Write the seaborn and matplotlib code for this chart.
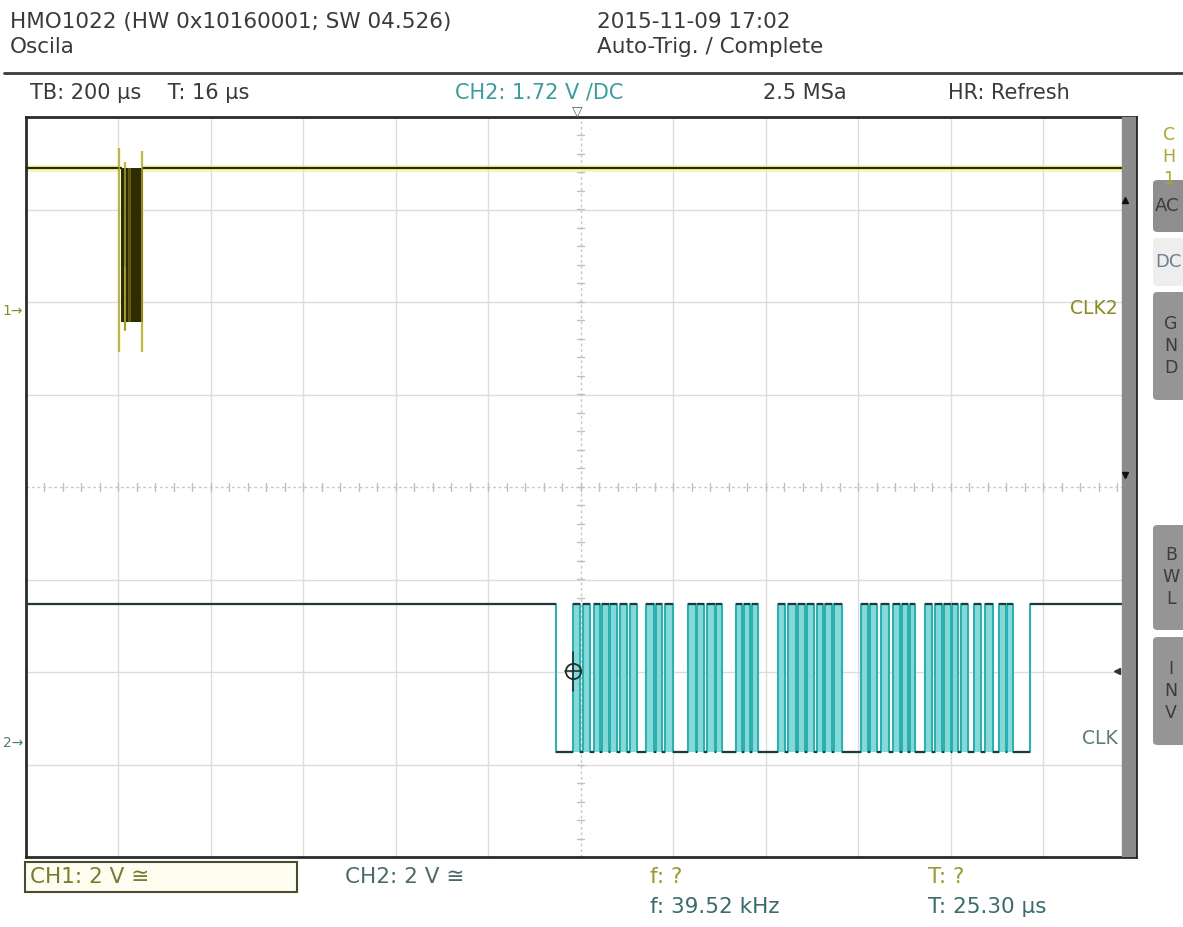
import numpy as np
import pandas as pd
import matplotlib
matplotlib.use("Agg")
import matplotlib.pyplot as plt
from matplotlib.patches import Rectangle, FancyBboxPatch
import seaborn as sns

# ---------------- data ----------------
time_range_us = [-1200, 1200]          # 12 div x 200 us
volts_per_div = 2.0
ch1_offset_div = 1.91
ch2_offset_div = -2.76

ch1_levels_v = [3.07, -0.26]           # high, low
ch1_burst_us = [-994, -946]            # dense burst region
ch1_burst_light_us = [-978, -972]
ch1_spikes_us = [-997, -985, -948]
ch1_spike_top_v = [3.50, 3.20, 3.45]
ch1_spike_bot_v = [-0.90, -0.45, -0.90]

ch2_levels_v = [3.00, -0.22]           # high, low
ch2_edges_us = [-53, -17, -2, 6, 21, 29, 43, 47, 61, 64, 78, 86, 101, 107, 123,
                142, 158, 163, 177, 183, 199, 233, 249, 252, 266, 274, 290, 293,
                307, 336, 350, 354, 367, 370, 383, 427, 443, 449, 465, 470, 486,
                490, 504, 512, 525, 529, 543, 548, 566, 607, 621, 626, 640, 650,
                668, 676, 690, 695, 709, 713, 724, 745, 761, 767, 781, 786, 800,
                803, 817, 823, 837, 851, 867, 875, 891, 905, 921, 923, 936, 972]
trigger_level_v = 1.72
trigger_time_us = -16

header_left = ["HMO1022 (HW 0x10160001; SW 04.526)", "Oscila"]
header_right = ["2015-11-09 17:02", "Auto-Trig. / Complete"]
status_items = ["TB: 200 µs    T: 16 µs", "CH2: 1.72 V /DC", "2.5 MSa", "HR: Refresh"]
bottom_ch = ["CH1: 2 V ≅", "CH2: 2 V ≅"]
meas_f = ["f: ?", "f: 39.52 kHz"]
meas_T = ["T: ?", "T: 25.30 µs"]
trace_labels = ["CLK2", "CLK"]

# ---------------- styles ----------------
sns.set_theme(style="white")
plt.rcParams['font.family'] = ['DejaVu Sans']

W, H = 1183, 927
fig = plt.figure(figsize=(W / 100, H / 100), dpi=100)
fig.patch.set_facecolor("white")

def fx(px):
    return px / W

def fy(py):
    return 1 - py / H

ax = fig.add_axes([fx(25.5), fy(857), fx(1135.5) - fx(25.5), fy(117) - fy(857)])
ax.set_facecolor("white")
ax.set_xlim(*time_range_us)
ax.set_ylim(-4, 4)
ax.set_xticks([])
ax.set_yticks([])
for s in ax.spines.values():
    s.set_color("#2a2a2a")
    s.set_linewidth(2)

# grid
grid_c = "#dcdcdc"
for xv in np.arange(-1000, 1200, 200):
    if xv != 0:
        ax.axvline(xv, color=grid_c, lw=1, zorder=0)
for yv in range(-3, 4):
    if yv != 0:
        ax.axhline(yv, color=grid_c, lw=1, zorder=0)
ax.axhline(0, color="#c8c8c8", lw=1, ls=(0, (2, 2)), zorder=0)
ax.axvline(0, color="#c8c8c8", lw=1, ls=(0, (2, 2)), zorder=0)
for xv in np.arange(-1200, 1201, 40):
    ax.plot([xv, xv], [-0.04, 0.04], color="#c0c0c0", lw=1, zorder=0)
for yv in np.arange(-4, 4.01, 0.2):
    ax.plot([-8.6, 8.6], [yv, yv], color="#c0c0c0", lw=1, zorder=0)

def ch1_div(v):
    return ch1_offset_div + np.asarray(v) / volts_per_div

def ch2_div(v):
    return ch2_offset_div + np.asarray(v) / volts_per_div

# ---------------- CH1 ----------------
c1_hi, c1_lo = ch1_div(ch1_levels_v[0]), ch1_div(ch1_levels_v[1])
ch1_df = pd.DataFrame({"t": [time_range_us[0], ch1_burst_us[0], ch1_burst_us[1], time_range_us[1]],
                       "y": [c1_hi] * 4, "seg": [0, 0, 1, 1]})
for seg, g in ch1_df.groupby("seg"):
    ax.plot(g["t"], g["y"], color="#f2f07a", lw=5, alpha=0.55, zorder=2, solid_capstyle="butt")
    sns.lineplot(data=g, x="t", y="y", color="#2b2a05", lw=1.6, ax=ax,
                 estimator=None, sort=False, zorder=3)
ax.fill_between(ch1_burst_us, c1_lo, c1_hi, color="#302c02", zorder=3, lw=0)
ax.fill_between(ch1_burst_light_us, c1_lo, c1_hi, color="#5e5810", zorder=3, lw=0)
ax.fill_between([ch1_burst_us[0] + 8, ch1_burst_us[0] + 12], c1_lo - 0.08, c1_lo + 0.6,
                color="#8c8420", zorder=3, lw=0)
ax.vlines(ch1_spikes_us, ch1_div(ch1_spike_bot_v), ch1_div(ch1_spike_top_v),
          color="#a8a440", lw=1.1, zorder=4)
ax.vlines(ch1_spikes_us, ch1_div(ch1_spike_bot_v), ch1_div(ch1_spike_top_v),
          color="#ecea5a", lw=3, alpha=0.3, zorder=2)

# ---------------- CH2 ----------------
c2_hi, c2_lo = ch2_div(ch2_levels_v[0]), ch2_div(ch2_levels_v[1])
t_pts = [time_range_us[0]] + ch2_edges_us
lev = [c2_hi if i % 2 == 0 else c2_lo for i in range(len(t_pts))]
t_pts = t_pts + [time_range_us[1]]
lev = lev + [lev[-1]]
ch2_df = pd.DataFrame({"t": t_pts, "y": lev})

# filled high pulses inside the burst
pulses = [(ch2_edges_us[i], ch2_edges_us[i + 1] - ch2_edges_us[i])
          for i in range(1, len(ch2_edges_us) - 1, 2)]
ax.broken_barh(pulses, (c2_lo, c2_hi - c2_lo), facecolors="#86d9d9", edgecolors="none", zorder=2)
sns.lineplot(data=ch2_df, x="t", y="y", drawstyle="steps-post", color="#2fb0b0", lw=1.5,
             ax=ax, estimator=None, sort=False, zorder=3)
ax.hlines(lev[:-1], t_pts[:-1], t_pts[1:], color="#1f3a3a", lw=1.6, zorder=4)

# trigger cross-hair
trig_div = ch2_div(trigger_level_v)
ax.plot(trigger_time_us, trig_div - 0.09, marker="o", ms=11, mfc="none", mec="#1f2f2f", mew=1.3, zorder=6)
ax.plot([trigger_time_us - 18, trigger_time_us + 18], [trig_div - 0.09] * 2, color="#1f2f2f", lw=1.2, zorder=6)
ax.plot([trigger_time_us] * 2, [trig_div - 0.3, trig_div + 0.12], color="#1f2f2f", lw=1.2, zorder=6)

# right scroll bar
ax.add_patch(Rectangle((1171, -4), 29, 8, color="#8c8c8c", zorder=7))
ax.plot(1177, 3.1, marker="^", color="#111111", ms=5, zorder=8)
ax.plot(1177, 0.13, marker="v", color="#111111", ms=5, zorder=8)
ax.plot(1160, trig_div - 0.09, marker="<", color="#333333", ms=4, zorder=8)

# trace labels
ax.text(1162, ch1_offset_div + 0.02, trace_labels[0], color="#8a8a22", fontsize=13.5,
        ha="right", va="center", zorder=8)
ax.text(1162, ch2_offset_div + 0.04, trace_labels[1], color="#5c7a7a", fontsize=13.5,
        ha="right", va="center", zorder=8)
ax.set_xlabel("")
ax.set_ylabel("")

# ---------------- header ----------------
txt_c = "#3a3a3a"
hfs = 15.5
fig.text(fx(10), fy(22), header_left[0], fontsize=hfs, color=txt_c, va="center", ha="left")
fig.text(fx(10), fy(47), header_left[1], fontsize=hfs, color=txt_c, va="center", ha="left")
fig.text(fx(597), fy(22), header_right[0], fontsize=hfs, color=txt_c, va="center", ha="left")
fig.text(fx(597), fy(47), header_right[1], fontsize=hfs, color=txt_c, va="center", ha="left")
fig.add_artist(plt.Line2D([0.003, 1], [fy(73), fy(73)], color="#3a3a3a", lw=2))

sfs = 15
fig.text(fx(30), fy(93), status_items[0], fontsize=sfs, color=txt_c, va="center")
fig.text(fx(455), fy(93), status_items[1], fontsize=sfs, color="#3a9c9c", va="center")
fig.text(fx(763), fy(93), status_items[2], fontsize=sfs, color=txt_c, va="center")
fig.text(fx(948), fy(93), status_items[3], fontsize=sfs, color=txt_c, va="center")
fig.text(fx(577), fy(111), "▽", fontsize=10, color="#4a6a6a", ha="center", va="center")

# channel markers on the left
fig.text(fx(13), fy(311), "1→", fontsize=10, color="#8a8a22", ha="center", va="center")
fig.text(fx(13), fy(743), "2→", fontsize=10, color="#4f7c7c", ha="center", va="center")

# ---------------- right side panel ----------------
for i, ch in enumerate(["C", "H", "1"]):
    fig.text(fx(1169), fy(135 + 22 * i), ch, fontsize=12.5, color="#a8a830", ha="center", va="center")

def button(y0, y1, face, letters, lcol, vertical=True):
    fig.add_artist(FancyBboxPatch((fx(1153), fy(y1)), fx(1200) - fx(1153), fy(y0) - fy(y1),
                                  boxstyle="round,pad=0,rounding_size=0.004",
                                  transform=fig.transFigure, facecolor=face, edgecolor="none"))
    if vertical:
        n = len(letters)
        mid = (y0 + y1) / 2
        for k, ch in enumerate(letters):
            fig.text(fx(1171), fy(mid + (k - (n - 1) / 2) * 22), ch, fontsize=12.5,
                     color=lcol, ha="center", va="center")
    else:
        fig.text(fx(1155), fy((y0 + y1) / 2), letters, fontsize=13, color=lcol, ha="left", va="center")

button(180, 232, "#8e8e8e", "AC", "#3c3c3c", vertical=False)
button(238, 286, "#eeeeee", "DC", "#6a7f95", vertical=False)
button(292, 400, "#959595", "GND", "#3c3c3c")
button(525, 630, "#959595", "BWL", "#3c3c3c")
button(637, 745, "#959595", "INV", "#3c3c3c")

# ---------------- bottom ----------------
bfs = 15.5
fig.add_artist(Rectangle((fx(25), fy(892)), fx(297) - fx(25), fy(862) - fy(892),
                         transform=fig.transFigure, facecolor="#fdfdf0",
                         edgecolor="#4a4a30", lw=1.5))
fig.text(fx(30), fy(877), bottom_ch[0], fontsize=bfs, color="#7a7a2e", va="center")
fig.text(fx(345), fy(877), bottom_ch[1], fontsize=bfs, color="#4b6b6b", va="center")
fig.text(fx(650), fy(877), meas_f[0], fontsize=bfs, color="#9a9a2e", va="center")
fig.text(fx(650), fy(907), meas_f[1], fontsize=bfs, color="#3b6b6b", va="center")
fig.text(fx(928), fy(877), meas_T[0], fontsize=bfs, color="#9a9a2e", va="center")
fig.text(fx(928), fy(907), meas_T[1], fontsize=bfs, color="#3b6b6b", va="center")

fig.savefig("out.png", dpi=100, facecolor="white")
